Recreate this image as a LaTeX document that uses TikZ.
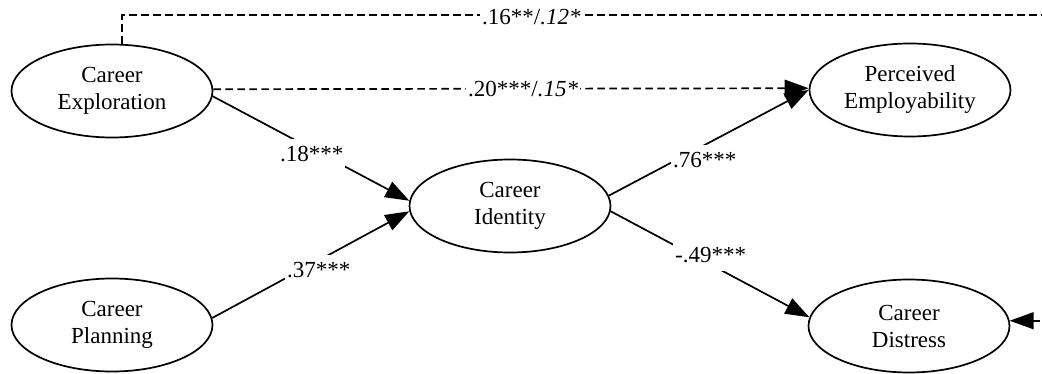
\documentclass[tikz,border=0pt]{standalone}
\usepackage{fontspec}
\setmainfont{Liberation Serif}
\usetikzlibrary{arrows.meta,shapes.geometric}

\begin{document}
\begin{tikzpicture}[x=1pt,y=-1pt,
  latent/.style={draw, ellipse, line width=1.7pt, minimum width=201pt,
    minimum height=93pt, inner sep=0pt, align=center,
    font=\fontsize{23}{27}\selectfont},
  effect/.style={line width=1.7pt, -{Triangle[length=24pt,width=17pt]}},
  cov/.style={effect, dash pattern=on 7.5pt off 4.5pt},
  coef/.style={fill=white, inner xsep=2pt, inner ysep=8pt, anchor=base west,
    font=\fontsize{23}{27}\selectfont}
]
\useasboundingbox (0,0) rectangle (1042,374);
\clip (0,0) rectangle (1042,374);

% latent variables
\node[latent] (ce) at (112,91)  {Career\\Exploration};
\node[latent] (cp) at (112,325) {Career\\Planning};
\node[latent] (ci) at (510,206) {Career\\Identity};
\node[latent] (pe) at (910,90)  {Perceived\\Employability};
\node[latent] (cd) at (909,326) {Career\\Distress};

% structural paths
\draw[effect] (ce.-3) -- (ci.177);
\draw[effect] (cp.4)  -- (ci.183);
\draw[effect] (ci.6)  -- (pe.180);
\draw[effect] (ci.-3) -- (cd.175);

% direct effects
\draw[cov] (ce.1.5) -- (pe.179);
\coordinate (tl) at (122,15);
\coordinate (tr) at (1056,15);
\draw[cov] ([xshift=10pt]ce.north) -- (tl) -- (tr) |- (cd.3);

% coefficients
\node[coef] (b1) at (278,162) {.18***};
\node[coef] (b2) at (285,278) {.37***};
\node[coef] (b3) at (671,168) {.76***};
\node[coef] (b4) at (673,263) {-.49***};
\node[coef, inner ysep=3pt] (b5) at (466,97) {.20***/\textit{.15*}\hspace{18pt}};
\node[coef, inner ysep=3pt] (b6) at (480,25) {.16**/\textit{.12*}\hspace{28pt}};
\end{tikzpicture}
\end{document}
